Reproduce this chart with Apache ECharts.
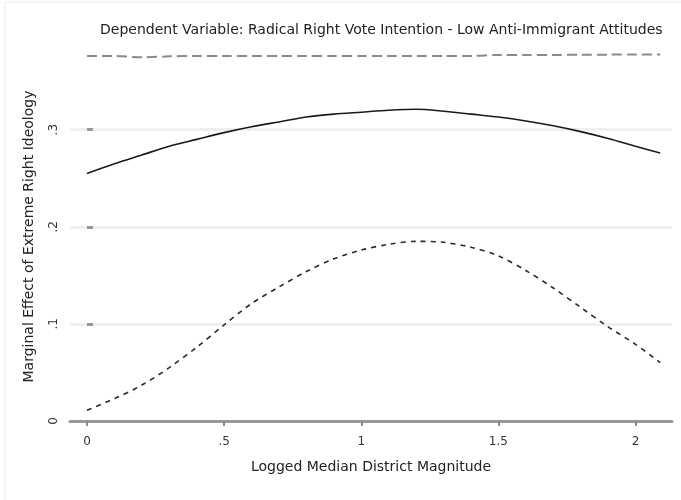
<!DOCTYPE html>
<html>
<head>
<meta charset="utf-8">
<script src="https://cdn.jsdelivr.net/npm/echarts@6/dist/echarts.min.js"></script>
<style>
  html, body { margin: 0; padding: 0; background: #fff; }
  #chart { width: 681px; height: 500px; }
</style>
</head>
<body>
<div id="chart"></div>
<script>
// logged median district magnitude (x)
var magnitude = [0, 0.1, 0.2, 0.3, 0.4, 0.5, 0.6, 0.7, 0.8, 0.9, 1.0,
                 1.1, 1.2, 1.3, 1.4, 1.5, 1.6, 1.7, 1.8, 1.9, 2.0, 2.09];
// marginal effect (solid line)
var effect = [0.255, 0.265, 0.274, 0.283, 0.290, 0.297, 0.303, 0.308, 0.313, 0.316, 0.318,
              0.320, 0.321, 0.319, 0.316, 0.313, 0.309, 0.304, 0.298, 0.291, 0.283, 0.276];
// upper bound (grey dashed)
var upper = [0.376, 0.376, 0.3745, 0.3755, 0.376, 0.376, 0.376, 0.376, 0.376, 0.376, 0.376,
             0.376, 0.376, 0.376, 0.376, 0.377, 0.377, 0.377, 0.3772, 0.3773, 0.3775, 0.3775];
// lower bound (dark dashed)
var lower = [0.011, 0.023, 0.037, 0.055, 0.076, 0.099, 0.121, 0.138, 0.154, 0.167, 0.176,
             0.182, 0.185, 0.184, 0.179, 0.170, 0.155, 0.137, 0.117, 0.097, 0.079, 0.060];

var xTicks = [0, 0.5, 1, 1.5, 2];
var xTickLabels = ['0', '.5', '1', '1.5', '2'];
var yTicks = [0, 0.1, 0.2, 0.3];
var yTickLabels = ['0', '.1', '.2', '.3'];

function pairs(ys){
    var out = [];
    for(var i=0;i<magnitude.length;i++){
        out.push([magnitude[i], ys[i]]);
    }
    return out;
}

function labelOf(ticks, labels){
    return function(v){
        for(var i=0;i<ticks.length;i++){
            if(Math.abs(ticks[i]-v) < 1e-6) return labels[i];
        }
        return '';
    };
}

var chart = echarts.init(document.getElementById('chart'));
var font = 'DejaVu Sans, Liberation Sans, sans-serif';

var option = {
    animation: false,
    backgroundColor: '#fff',
    textStyle: { fontFamily: font },
    graphic: [{
        type: 'rect',
        shape: { x: 5, y: 2, width: 720, height: 540 },
        style: { fill: 'none', stroke: '#ececec', lineWidth: 1 },
        silent: true
    }],
    title: {
        text: 'Dependent Variable: Radical Right Vote Intention - Low Anti-Immigrant Attitudes',
        left: 95,
        top: 18,
        textStyle: { fontSize: 14, fontWeight: 'normal', color: '#222', fontFamily: font }
    },
    grid: {
        left: 70, right: 9, top: 52, bottom: 79,
        outerBoundsMode: 'none'
    },
    xAxis: [{
        type: 'value',
        min: -0.062, max: 2.133,
        axisLine: { show: true, onZero: false, lineStyle: { color: '#999', width: 3 } },
        axisTick: { show: false },
        axisLabel: { show: false },
        splitLine: { show: false }
    }, {
        type: 'value',
        position: 'bottom',
        offset: 11,
        min: -0.062, max: 2.133,
        axisLine: { show: false },
        axisTick: { show: true, customValues: xTicks, length: 5, lineStyle: { color: '#888', width: 2 } },
        axisLabel: {
            customValues: xTicks, formatter: labelOf(xTicks, xTickLabels),
            color: '#333', fontSize: 12, margin: 4
        },
        splitLine: { show: false },
        name: 'Logged Median District Magnitude',
        nameLocation: 'middle',
        nameGap: 28,
        nameTextStyle: { fontSize: 14, color: '#222' }
    }],
    yAxis: {
        type: 'value',
        min: 0, max: 0.38,
        axisLine: { show: false },
        axisTick: { show: true, inside: true, customValues: yTicks, length: 6, lineStyle: { color: '#999', width: 3 } },
        axisLabel: {
            customValues: yTicks, formatter: labelOf(yTicks, yTickLabels),
            rotate: 90, color: '#333', fontSize: 12, margin: 10
        },
        splitLine: { show: true, lineStyle: { color: '#efefef', width: 3 } },
        name: 'Marginal Effect of Extreme Right Ideology',
        nameLocation: 'middle',
        nameGap: 34,
        nameTextStyle: { fontSize: 14, color: '#222' }
    },
    series: [{
        name: 'upper',
        type: 'line',
        data: pairs(upper),
        showSymbol: false,
        smooth: 0.3,
        lineStyle: { color: '#8a8a8a', width: 2, type: [10, 5] }
    }, {
        name: 'effect',
        type: 'line',
        data: pairs(effect),
        showSymbol: false,
        smooth: 0.3,
        lineStyle: { color: '#1a1a1a', width: 1.6 }
    }, {
        name: 'lower',
        type: 'line',
        data: pairs(lower),
        showSymbol: false,
        smooth: 0.3,
        lineStyle: { color: '#2a2a2a', width: 1.6, type: [5, 5] }
    }]
};

chart.setOption(option);
</script>
</body>
</html>
